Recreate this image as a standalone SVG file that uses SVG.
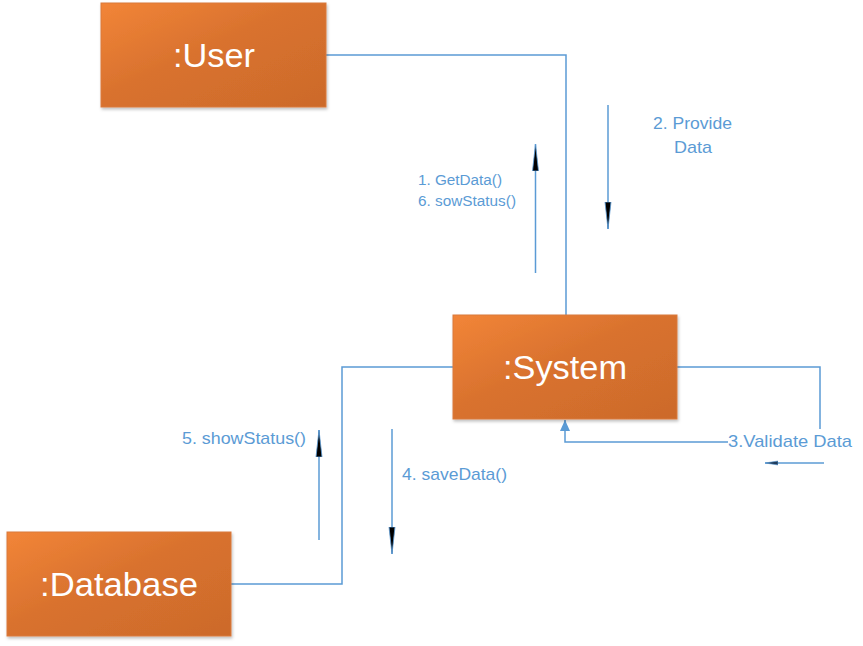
<svg xmlns="http://www.w3.org/2000/svg" width="863" height="646" viewBox="0 0 863 646">
<defs>
<linearGradient id="og" x1="0" y1="0" x2="1" y2="1">
<stop offset="0" stop-color="#F28538"/>
<stop offset="0.45" stop-color="#D9722E"/>
<stop offset="1" stop-color="#CC6A2B"/>
</linearGradient>
<filter id="sh" x="-5%" y="-5%" width="115%" height="120%">
<feDropShadow dx="1" dy="2" stdDeviation="1.5" flood-color="#000" flood-opacity="0.25"/>
</filter>
<marker id="blk" viewBox="0 0 28 8" refX="27" refY="4" markerWidth="28" markerHeight="8" markerUnits="userSpaceOnUse" orient="auto">
<path d="M0,1 L27,4 L0,7 Z" fill="#000" stroke="#5B9BD5" stroke-width="0.8"/>
</marker>
<marker id="blue" viewBox="0 0 12 12" refX="11" refY="6" markerWidth="12" markerHeight="12" markerUnits="userSpaceOnUse" orient="auto">
<path d="M0,1 L11,6 L0,11 Z" fill="#5B9BD5"/>
</marker>
<marker id="sm" viewBox="0 0 14 6" refX="13" refY="3" markerWidth="14" markerHeight="6" markerUnits="userSpaceOnUse" orient="auto">
<path d="M0,1 L13,3 L0,5 Z" fill="#1F3B5A" stroke="#5B9BD5" stroke-width="0.6"/>
</marker>
</defs>
<style>
.node rect{fill:url(#og);stroke:#D97A3C;stroke-width:1;filter:url(#sh)}
.node text{fill:#fff;font-family:"Liberation Sans",Arial,sans-serif;font-size:33px;text-anchor:middle}
.conn path,.conn line{fill:none;stroke:#5B9BD5;stroke-width:1.5}
.lbl{fill:#5B9BD5;font-family:"Liberation Sans",Arial,sans-serif}
</style>
<rect width="863" height="646" fill="#fff"/>
<g id="connectors" class="conn">
<path d="M326,55 H566 V315"/>
<path d="M677,367 H820 V429"/>
<path d="M728,442 H565 V420" marker-end="url(#blue)"/>
<path d="M231,584 H342 V367 H453"/>
<line x1="535.5" y1="273" x2="535.5" y2="144" marker-end="url(#blk)"/>
<line x1="608" y1="105" x2="608" y2="229" marker-end="url(#blk)"/>
<line x1="319" y1="540" x2="319" y2="430" marker-end="url(#blk)"/>
<line x1="392" y1="429" x2="392" y2="554" marker-end="url(#blk)"/>
<line x1="824" y1="463" x2="765" y2="463" marker-end="url(#sm)"/>
</g>
<g id="labels">
<text class="lbl" x="418" y="185" font-size="14" textLength="84" lengthAdjust="spacingAndGlyphs">1. GetData()</text>
<text class="lbl" x="418" y="206" font-size="14" textLength="98" lengthAdjust="spacingAndGlyphs">6. sowStatus()</text>
<text class="lbl" x="653" y="129" font-size="17" textLength="79" lengthAdjust="spacingAndGlyphs">2. Provide</text>
<text class="lbl" x="674" y="153" font-size="17" textLength="38" lengthAdjust="spacingAndGlyphs">Data</text>
<text class="lbl" x="728" y="447" font-size="17" textLength="124" lengthAdjust="spacingAndGlyphs">3.Validate Data</text>
<text class="lbl" x="182" y="444" font-size="17" textLength="124" lengthAdjust="spacingAndGlyphs">5. showStatus()</text>
<text class="lbl" x="402" y="480" font-size="17" textLength="105" lengthAdjust="spacingAndGlyphs">4. saveData()</text>
</g>
<g id="user" class="node">
<rect x="101" y="3" width="225" height="104"/>
<text x="214" y="67" textLength="82" lengthAdjust="spacingAndGlyphs">:User</text>
</g>
<g id="system" class="node">
<rect x="453" y="315" width="224" height="104"/>
<text x="565" y="379" textLength="124" lengthAdjust="spacingAndGlyphs">:System</text>
</g>
<g id="database" class="node">
<rect x="7" y="532" width="224" height="104"/>
<text x="119" y="596" textLength="158" lengthAdjust="spacingAndGlyphs">:Database</text>
</g>
</svg>
